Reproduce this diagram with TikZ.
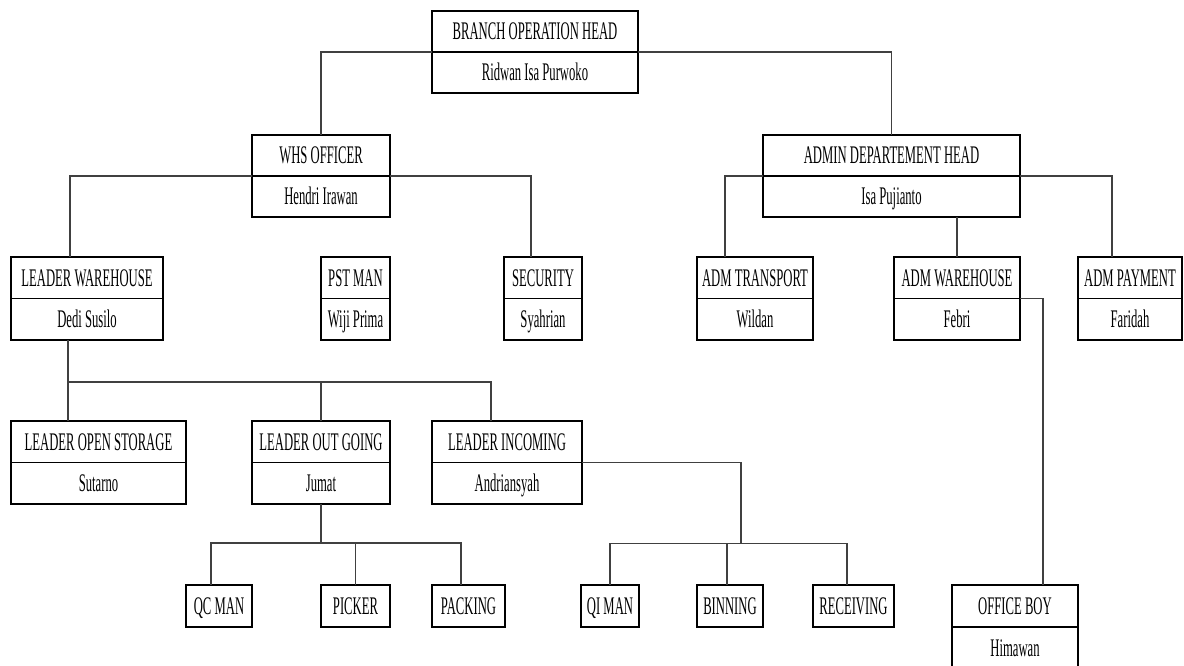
\documentclass[tikz,border=0pt]{standalone}
\usepackage{fontspec}
\setmainfont[FakeStretch=0.5]{Liberation Serif}
\usetikzlibrary{calc}
\tikzset{
  orgbox/.style={draw=black, line width=1.1pt, rectangle, inner sep=0pt, outer sep=0pt},
  divline/.style={draw=black, line width=1.1pt},
  lbl/.style={inner sep=0pt, outer sep=0pt, text height=12.5pt, text depth=0pt, font=\fontsize{19}{22}\selectfont, text=black},
  conn/.style={draw=black!75, line width=0.8pt},
}
\newcommand\OrgBox[7]{%
  \node[orgbox, minimum width=#4*0.75pt, minimum height=#5*0.75pt] (#1) at (#2,#3) {};
  \draw[divline] (#1.west) -- (#1.east);
  \node[lbl] (#1-t) at ($(#1.north)!0.5!(#1.center)$) {#6};
  \node[lbl] (#1-n) at ($(#1.south)!0.5!(#1.center)$) {#7};
}
\newcommand\OrgLeaf[6]{%
  \node[orgbox, minimum width=#4*0.75pt, minimum height=#5*0.75pt] (#1) at (#2,#3) {};
  \node[lbl] (#1-t) at (#1.center) {#6};
}
\begin{document}
\begin{tikzpicture}[x=0.75pt,y=-0.75pt]
\useasboundingbox (0,0) rectangle (1184,665);
\clip (0,0) rectangle (1184,665);
% boxes
\OrgBox{boh}{535}{52}{206}{82}{BRANCH OPERATION HEAD}{Ridwan Isa Purwoko}
\OrgBox{whs}{321}{176}{138}{82}{WHS OFFICER}{Hendri Irawan}
\OrgBox{adh}{891.5}{176}{257}{82}{ADMIN DEPARTEMENT HEAD}{Isa Pujianto}
\OrgBox{lw}{87}{298.5}{152}{83}{LEADER WAREHOUSE}{Dedi Susilo}
\OrgBox{pst}{355.5}{298.5}{69}{83}{PST MAN}{Wiji Prima}
\OrgBox{sec}{543}{298.5}{78}{83}{SECURITY}{Syahrian}
\OrgBox{admt}{755}{298.5}{116}{83}{ADM TRANSPORT}{Wildan}
\OrgBox{admw}{957}{298.5}{126}{83}{ADM WAREHOUSE}{Febri}
\OrgBox{admp}{1130}{298.5}{104}{83}{ADM PAYMENT}{Faridah}
\OrgBox{los}{98.5}{462.5}{175}{83}{LEADER OPEN STORAGE}{Sutarno}
\OrgBox{log}{321}{462.5}{138}{83}{LEADER OUT GOING}{Jumat}
\OrgBox{lin}{507}{462.5}{150}{83}{LEADER INCOMING}{Andriansyah}
\OrgLeaf{qc}{219}{606}{66}{42}{QC MAN}
\OrgLeaf{pick}{355.5}{606}{69}{42}{PICKER}
\OrgLeaf{pack}{468.5}{606}{73}{42}{PACKING}
\OrgLeaf{qi}{610}{606}{58}{42}{QI MAN}
\OrgLeaf{bin}{730}{606}{66}{42}{BINNING}
\OrgLeaf{rec}{853.5}{606}{81}{42}{RECEIVING}
\OrgBox{ob}{1015}{627}{126}{84}{OFFICE BOY}{Himawan}
% level 1
\draw[conn] (whs.north) |- (boh.west);
\draw[conn] (boh.east) -| (adh.north);
% WHS officer
\draw[conn] (whs.west) -| ($(lw.north west)+(59,0)$);
\draw[conn] (whs.east) -| ($(sec.north west)+(27,0)$);
% admin head
\draw[conn] (adh.west) -| ($(admt.north west)+(28,0)$);
\draw[conn] (adh.east) -| ($(admp.north west)+(34,0)$);
\draw[conn] (admw.north) -- (admw.north |- adh.south);
\draw[conn] (admw.east) -| ($(ob.north west)+(91,0)$);
% leader warehouse
\coordinate (busA) at ($(lw.south west)+(57,42)$);
\coordinate (linIn) at ($(lin.north west)+(59,0)$);
\draw[conn] ($(lw.south west)+(57,0)$) -- ($(los.north west)+(57,0)$);
\draw[conn] (busA) -| (linIn);
\draw[conn] (log.north) -- (log.north |- busA);
% leader out going
\coordinate (busB) at ($(log.south)+(0,39)$);
\coordinate (qcIn) at ($(qc.north west)+(25,0)$);
\coordinate (packIn) at ($(pack.north west)+(29,0)$);
\draw[conn] (log.south) -- (busB);
\draw[conn] (qcIn) |- (busB) -| (packIn);
\draw[conn] (pick.north) -- (pick.north |- busB);
% leader incoming
\coordinate (busD) at ($(lin.east)+(159,81)$);
\coordinate (binIn) at ($(bin.north west)+(30,0)$);
\coordinate (recIn) at ($(rec.north west)+(34,0)$);
\draw[conn] (lin.east) -| (busD);
\draw[conn] (qi.north) |- (busD) -| (recIn);
\draw[conn] (binIn) -- (binIn |- busD);
\end{tikzpicture}
\end{document}
